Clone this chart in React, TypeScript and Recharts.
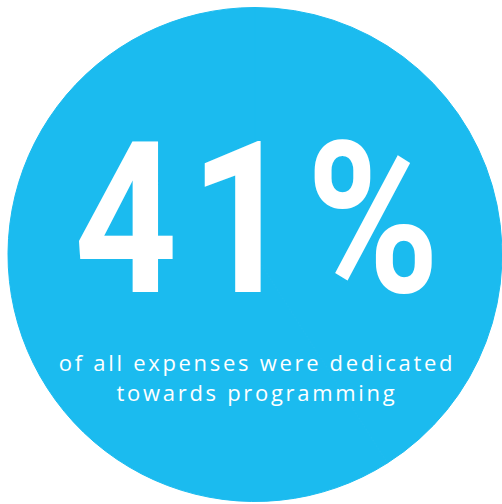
import { PieChart, Pie, Cell, Label } from 'recharts';

const CIRCLE_COLOR = '#1bbbef';

const shareNames = ['programming', 'other expenses'];
const shareValues = [41, 59];
const headline = `${shareValues[0]}%`;
const captionLines = ['of all expenses were dedicated', 'towards programming'];

const data = shareNames.map((name, i) => ({ name, value: shareValues[i] }));

function CenterText(props: any) {
  const vb = props.viewBox || {};
  const cx = vb.cx ?? 255;
  const cy = vb.cy ?? 254;
  return (
    <g>
      <g transform={`translate(${cx + 8}, ${cy + 38}) scale(0.85, 1)`}>
        <text
          x={0}
          y={0}
          textAnchor="middle"
          fill="#fff"
          fontFamily="Roboto, sans-serif"
          fontWeight={700}
          fontSize={212}
          letterSpacing={15}
        >
          {headline}
        </text>
      </g>
      {captionLines.map((line, i) => (
        <text
          key={line}
          x={cx + 2}
          y={cy + 117 + i * 30}
          textAnchor="middle"
          fill="#fff"
          fontFamily="'Open Sans', sans-serif"
          fontSize={22}
          letterSpacing={2.7}
        >
          {line}
        </text>
      ))}
    </g>
  );
}

export default function App() {
  return (
    <div style={{ position: 'absolute', left: 0, top: 0, width: 502, height: 504 }}>
      <PieChart width={502} height={504} margin={{ top: 0, right: 0, bottom: 0, left: 0 }}>
        <Pie
          data={data}
          dataKey="value"
          nameKey="name"
          cx={255}
          cy={254.5}
          innerRadius={0}
          outerRadius={247}
          startAngle={90}
          endAngle={-270}
          stroke={CIRCLE_COLOR}
          strokeWidth={1}
          isAnimationActive={false}
        >
          {data.map((entry) => (
            <Cell key={entry.name} fill={CIRCLE_COLOR} />
          ))}
          <Label position="center" content={<CenterText />} />
        </Pie>
      </PieChart>
    </div>
  );
}
